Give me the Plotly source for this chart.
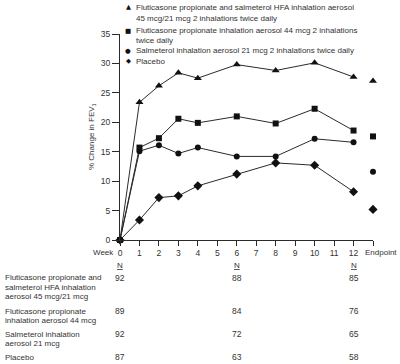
import plotly.graph_objects as go

weeks = [0, 1, 2, 3, 4, 6, 8, 10, 12]
endpoint_x = 13
fsh_vals = [0, 23.4, 26.2, 28.4, 27.5, 29.8, 28.8, 30.1, 27.7]
fsh_end = 27.0
fp_vals = [0, 15.7, 17.3, 20.6, 19.9, 21.0, 19.8, 22.3, 18.6]
fp_end = 17.6
sal_vals = [0, 15.1, 16.1, 14.7, 15.7, 14.2, 14.2, 17.2, 16.6]
sal_end = 11.6
pla_vals = [0, 3.4, 7.2, 7.5, 9.2, 11.2, 13.1, 12.7, 8.2]
pla_end = 5.2

symbols = ["triangle-up", "square", "circle", "diamond"]
marker_sizes = [7, 6, 6, 7]
legend_glyphs = ["▲", "■", "●", "◆"]
legend_lines = [
    ["Fluticasone propionate and salmeterol HFA inhalation aerosol",
     "45 mcg/21 mcg 2 inhalations twice daily"],
    ["Fluticasone propionate inhalation aerosol 44 mcg 2 inhalations",
     "twice daily"],
    ["Salmeterol inhalation aerosol 21 mcg 2 inhalations twice daily"],
    ["Placebo"],
]
row_labels = [
    ["Fluticasone propionate and", "salmeterol HFA inhalation", "aerosol 45 mcg/21 mcg"],
    ["Fluticasone propionate", "inhalation aerosol 44 mcg"],
    ["Salmeterol inhalation", "aerosol 21 mcg"],
    ["Placebo"],
]
n_weeks = [0, 6, 12]
n_values = [[92, 88, 85], [89, 84, 76], [92, 72, 65], [87, 63, 58]]
x_tick_vals = list(range(0, 14))
x_tick_text = [str(i) for i in range(0, 13)] + [""]
y_ticks = [0, 5, 10, 15, 20, 25, 30, 35]

FONT = "Liberation Sans, Arial, sans-serif"
FS = 8
NFS = 8.5
TXT = "#333333"
LINE = "#2a2a2a"

W, H = 400, 364
L, R, T, B = 120, 27, 34, 124
PH = H - T - B
PW = W - L - R


def py(p):
    return (H - B - p) / PH


def px(p):
    return (p - L) / PW


series = [(fsh_vals, fsh_end), (fp_vals, fp_end), (sal_vals, sal_end), (pla_vals, pla_end)]

fig = go.Figure()
for i, (vals, end) in enumerate(series):
    fig.add_trace(go.Scatter(
        x=weeks, y=vals, mode="lines+markers",
        line=dict(color=LINE, width=1),
        marker=dict(symbol=symbols[i], size=marker_sizes[i], color="#111111"),
        cliponaxis=False, showlegend=False, hoverinfo="skip"))
    fig.add_trace(go.Scatter(
        x=[endpoint_x], y=[end], mode="markers",
        marker=dict(symbol=symbols[i], size=marker_sizes[i], color="#111111"),
        cliponaxis=False, showlegend=False, hoverinfo="skip"))

ann = []
leg_y = [[7.3, 18.3], [30.7, 40], [51], [61]]
for i in range(4):
    ann.append(dict(xref="paper", yref="paper", x=px(128), y=py(leg_y[i][0]),
                    text=legend_glyphs[i], showarrow=False, xanchor="center", yanchor="middle",
                    font=dict(family="DejaVu Sans", size=6.5, color="#111111")))
    for j, line in enumerate(legend_lines[i]):
        ann.append(dict(xref="paper", yref="paper", x=px(134), y=py(leg_y[i][j]),
                        text=line, showarrow=False, xanchor="left", yanchor="middle",
                        font=dict(family=FONT, size=FS, color=TXT)))
ann.append(dict(xref="paper", yref="paper", x=px(92), y=0.5, text="% Change in FEV<sub>1</sub>",
                textangle=-90, showarrow=False, xanchor="center", yanchor="middle",
                font=dict(family=FONT, size=FS, color=TXT)))
ann.append(dict(xref="x", yref="paper", x=0, y=py(252), text="Week", showarrow=False,
                xanchor="right", yanchor="middle", xshift=-4,
                font=dict(family=FONT, size=FS, color=TXT)))
ann.append(dict(xref="paper", yref="paper", x=px(399), y=py(252), text="Endpoint", showarrow=False,
                xanchor="right", yanchor="middle",
                font=dict(family=FONT, size=FS, color=TXT)))
for w in n_weeks:
    ann.append(dict(xref="x", yref="paper", x=w, y=py(265), text="<u>N</u>", showarrow=False,
                    xanchor="center", yanchor="middle",
                    font=dict(family=FONT, size=FS, color=TXT)))
row_y = [[277.7, 287.3, 296.7], [311, 320], [334, 343.3], [357.3]]
for i in range(4):
    for j, line in enumerate(row_labels[i]):
        ann.append(dict(xref="paper", yref="paper", x=px(3), y=py(row_y[i][j]), text=line,
                        showarrow=False, xanchor="left", yanchor="middle",
                        font=dict(family=FONT, size=FS, color=TXT)))
    for k, w in enumerate(n_weeks):
        ann.append(dict(xref="x", yref="paper", x=w, y=py(row_y[i][0]), text=str(n_values[i][k]),
                        showarrow=False, xanchor="center", yanchor="middle",
                        font=dict(family=FONT, size=NFS, color=TXT)))

fig.update_layout(
    width=W, height=H, margin=dict(l=L, r=R, t=T, b=B),
    paper_bgcolor="white", plot_bgcolor="white",
    annotations=ann,
    xaxis=dict(range=[0, 13], tickvals=x_tick_vals, ticktext=x_tick_text,
               showline=True, linecolor=LINE, linewidth=1, ticks="outside", ticklen=5,
               tickcolor=LINE, showgrid=False, zeroline=False,
               tickfont=dict(family=FONT, size=NFS, color=TXT)),
    yaxis=dict(range=[0, 35], tickvals=y_ticks, showline=True, linecolor=LINE, linewidth=1,
               ticks="outside", ticklen=7, tickcolor=LINE, showgrid=False, zeroline=False,
               tickfont=dict(family=FONT, size=NFS, color=TXT)),
)
fig.write_html("out.html", config={"displayModeBar": False},
               post_script="document.body.style.margin='0';")
